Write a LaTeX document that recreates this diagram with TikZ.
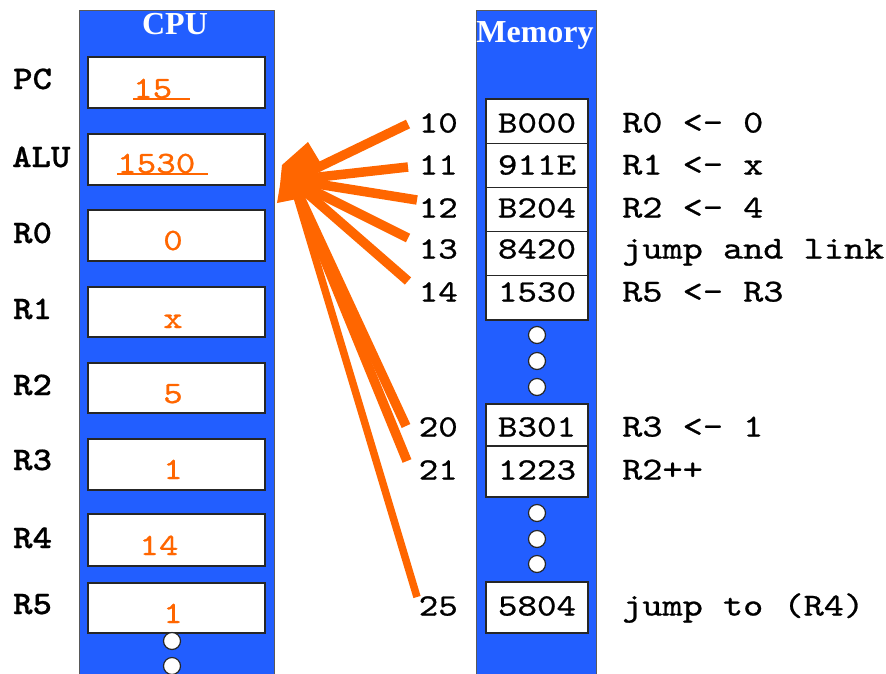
\documentclass[tikz,border=0pt]{standalone}
\usepackage{fontspec}
\setmainfont{Liberation Serif}
\newfontfamily\cour{lmmono10-regular.otf}[FakeStretch=1.2,FakeBold=0.8]
\newfontfamily\courb{lmmonolt10-bold.otf}[FakeStretch=1.12,FakeBold=0.6]
\definecolor{cpublue}{RGB}{34,94,255}
\definecolor{hot}{RGB}{255,102,0}
\begin{document}
\begin{tikzpicture}[x=1pt,y=-1pt,
  col/.style={draw=black!65,fill=cpublue,line width=1.3pt,anchor=north west,inner sep=0pt},
  title/.style={text=white,font=\bfseries\fontsize{32}{34}\selectfont,inner sep=0pt,anchor=base},
  reg/.style={draw=black!85,fill=white,line width=1.5pt,minimum width=177pt,inner sep=0pt},
  val/.style={text=hot,font=\cour\fontsize{31}{33}\selectfont,inner sep=0pt},
  uline/.style={draw=hot,line width=1.3pt},
  lbl/.style={font=\courb\fontsize{33}{35}\selectfont,inner sep=0pt,anchor=base west},
  dot/.style={circle,draw=black!85,fill=white,line width=1.2pt,minimum size=17pt,inner sep=0pt},
  memcell/.style={draw=black!85,fill=white,line width=1.3pt,minimum width=102pt,inner sep=0pt},
  memtxt/.style={font=\cour\fontsize{31}{33}\selectfont,inner sep=0pt,text height=19pt,text depth=0pt},
  addr/.style={font=\cour\fontsize{31}{33}\selectfont,inner sep=0pt,anchor=east,text height=19pt,text depth=0pt},
  cmt/.style={font=\cour\fontsize{32}{34}\selectfont,inner sep=0pt,anchor=west,text height=19pt,text depth=0pt},
  wire/.style={draw=hot,line width=9.5pt},
  thinwire/.style={draw=hot,line width=7.5pt}]
\useasboundingbox (0,0) rectangle (886,673);

% ---------- CPU column ----------
\node[col,minimum width=195pt,minimum height=675pt] (cpu) at (79,10) {};
\node[title] (cputitle) at (175,34) {CPU};

\node[reg,minimum height=51pt] (pc)  at (176.5,82.5) {};
\node[reg,minimum height=51pt] (alu) at (176.5,159.5) {};
\node[reg,minimum height=51pt] (r0)  at (176.5,235.5) {};
\node[reg,minimum height=50pt] (r1)  at (176.5,312) {};
\node[reg,minimum height=50pt] (r2)  at (176.5,388) {};
\node[reg,minimum height=51pt] (r3)  at (176.5,464.5) {};
\node[reg,minimum height=52pt] (r4)  at (176.5,540) {};
\node[reg,minimum height=50pt] (r5)  at (176.5,608) {};

\node[lbl] (lpc)  at (13,89)  {PC};
\node[lbl] (lalu) at (12,167) {ALU};
\node[lbl] (lr0)  at (13,243) {R0};
\node[lbl] (lr1)  at (13,319) {R1};
\node[lbl] (lr2)  at (13,395) {R2};
\node[lbl] (lr3)  at (13,470) {R3};
\node[lbl] (lr4)  at (13,548) {R4};
\node[lbl] (lr5)  at (13,614) {R5};

\node[val,anchor=base west] (vpc)  at (133,98)  {15};
\draw[uline] ([yshift=-1pt]vpc.base west) -- ++(57,0);
\node[val,anchor=base west] (valu) at (117,173) {1530};
\draw[uline] ([yshift=-1pt]valu.base west) -- ++(91,0);
\node[val,anchor=base] (vr0) at (173,250) {0};
\node[val,anchor=base] (vr1) at (173,328) {x};
\node[val,anchor=base] (vr2) at (173,403) {5};
\node[val,anchor=base] (vr3) at (173,479) {1};
\node[val,anchor=base] (vr4) at (159,555) {14};
\node[val,anchor=base] (vr5) at (173,623) {1};

\node[dot] (cd1) at (172,641) {};
\node[dot] (cd2) at (172,666) {};

% ---------- Memory column ----------
\node[col,minimum width=120pt,minimum height=675pt] (mem) at (476,10) {};
\node[title] (memtitle) at (535,42) {Memory};

\node[memcell,minimum height=44.2pt] (c10) at (537,121.1) {};
\node[memcell,minimum height=44.2pt] (c11) at (537,165.3) {};
\node[memcell,minimum height=44.2pt] (c12) at (537,209.5) {};
\node[memcell,minimum height=44.2pt] (c13) at (537,253.7) {};
\node[memcell,minimum height=44.2pt] (c14) at (537,297.9) {};
\node[memcell,minimum height=42pt]   (c20) at (537,425) {};
\node[memcell,minimum height=51pt]   (c21) at (537,471.5) {};
\node[memcell,minimum height=51pt]   (c25) at (537,607.5) {};

\node[memtxt] (m10) at (537,123) {B000};
\node[memtxt] (m11) at (537,165) {911E};
\node[memtxt] (m12) at (537,208) {B204};
\node[memtxt] (m13) at (537,249) {8420};
\node[memtxt] (m14) at (537,292) {1530};
\node[memtxt] (m20) at (537,427) {B301};
\node[memtxt] (m21) at (537,470) {1223};
\node[memtxt] (m25) at (537,606) {5804};

\node[dot] (md1) at (537,335) {};
\node[dot] (md2) at (537,361) {};
\node[dot] (md3) at (537,387) {};
\node[dot] (md4) at (537,513) {};
\node[dot] (md5) at (537,539) {};
\node[dot] (md6) at (537,564) {};

% addresses
\node[addr] (a10) at (458,123) {10};
\node[addr] (a11) at (458,165) {11};
\node[addr] (a12) at (458,208) {12};
\node[addr] (a13) at (458,249) {13};
\node[addr] (a14) at (458,292) {14};
\node[addr] (a20) at (458,427) {20};
\node[addr] (a21) at (458,470) {21};
\node[addr] (a25) at (458,606) {25};

% comments
\node[cmt] (k10) at (622,123) {R0 <- 0};
\node[cmt] (k11) at (622,165) {R1 <- x};
\node[cmt] (k12) at (622,208) {R2 <- 4};
\node[cmt] (k13) at (622,249) {jump and link};
\node[cmt] (k14) at (622,292) {R5 <- R3};
\node[cmt] (k20) at (622,427) {R3 <- 1};
\node[cmt] (k21) at (622,470) {R2++};
\node[cmt] (k25) at (622,606) {jump to (R4)};

% ---------- orange connectors ----------
\coordinate (hub) at (292,180);
\coordinate (e10) at (408,124);
\coordinate (e11) at (408,167);
\coordinate (e12) at (417,200);
\coordinate (e13) at (408,238);
\coordinate (e14) at (408,281);
\coordinate (e20) at (406,426);
\coordinate (e21) at (407,461);
\coordinate (e25) at (417,597);

\draw[wire] (e10) -- (hub);
\draw[wire] (e11) -- (hub);
\draw[wire] (e12) -- (hub);
\draw[wire] (e13) -- (hub);
\draw[wire] (e14) -- (hub);
\draw[wire] (e20) -- (hub);
\draw[wire] (e21) -- (hub);
\draw[thinwire] (e25) -- (hub);
\fill[hot] (308,142) -- (320,162) -- (312,185) -- (302,198) -- (277,203) -- (280,185) -- (282,165) -- cycle;
\end{tikzpicture}
\end{document}
